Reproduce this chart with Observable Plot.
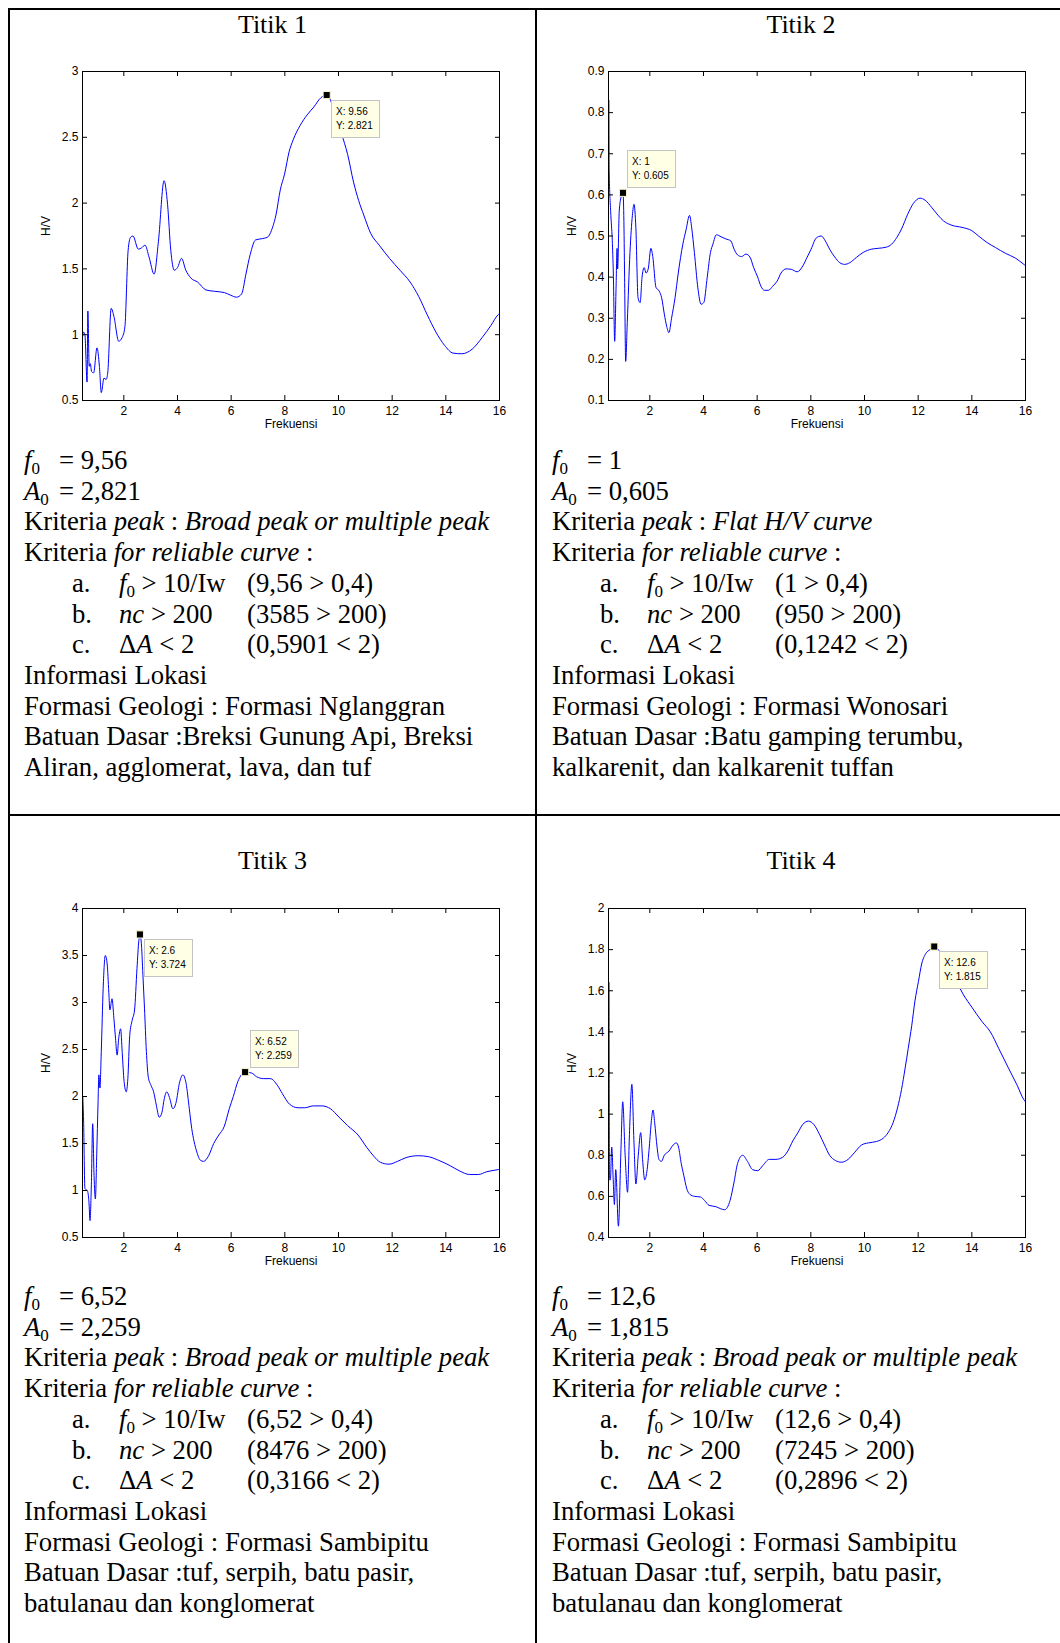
<!DOCTYPE html>
<html>
<head>
<meta charset="utf-8">
<title>Kurva H/V Titik 1–4</title>
<script src="https://cdn.jsdelivr.net/npm/d3@7"></script>
<script src="https://cdn.jsdelivr.net/npm/@observablehq/plot@0.6"></script>
<style>
  html, body { margin: 0; padding: 0; background: #fff; }
  #page {
    position: relative; width: 1060px; height: 1643px; overflow: hidden;
    font-family: "Liberation Serif", "Times New Roman", serif; color: #000;
  }
  .rule { position: absolute; background: #000; }
  .title {
    position: absolute; font-size: 26px; line-height: 26px;
    transform: translateX(-50%); white-space: nowrap;
  }
  .chart { position: absolute; }
  .info {
    position: absolute; font-size: 26.7px; line-height: 30.7px; white-space: nowrap;
  }
  .sub { position: relative; top: 5px; font-size: 17px; line-height: 0; }
  .sym { display: inline-block; width: 35px; }
  .item { padding-left: 48px; }
  .item .k { display: inline-block; width: 47px; }
  .item .c { display: inline-block; width: 128px; }
</style>
</head>
<body>
<div id="page"></div>
<script>
// H/V spectral ratio curves: [frequency (Hz), H/V]
const titik1 = [
  [0.47,0.99],[0.5,1.02],[0.55,1.0],[0.63,0.64],[0.66,1.18],[0.71,0.76],[0.75,0.78],[0.8,0.72],
  [0.875,0.71],[1.0,0.9],[1.09,0.76],[1.16,0.56],[1.26,0.67],[1.34,0.66],[1.4,0.71],[1.53,1.2],
  [1.63,1.14],[1.81,0.95],[1.94,0.98],[2.04,1.06],[2.16,1.64],[2.25,1.74],[2.34,1.75],[2.54,1.65],
  [2.66,1.66],[2.79,1.68],[2.94,1.59],[3.13,1.46],[3.29,1.71],[3.5,2.17],[3.63,1.99],[3.75,1.64],
  [3.88,1.49],[4.0,1.51],[4.15,1.58],[4.31,1.49],[4.5,1.43],[4.75,1.4],[5.06,1.34],[5.37,1.33],
  [5.75,1.32],[5.98,1.3],[6.2,1.285],[6.39,1.31],[6.55,1.46],[6.71,1.61],[6.91,1.72],[7.16,1.73],
  [7.35,1.74],[7.55,1.82],[7.67,1.91],[7.83,2.1],[7.99,2.22],[8.16,2.39],[8.31,2.48],[8.57,2.59],
  [8.83,2.67],[9.08,2.73],[9.34,2.8],[9.56,2.821],[9.85,2.7],[10.11,2.53],[10.34,2.37],[10.56,2.16],
  [10.75,2.02],[10.94,1.91],[11.2,1.77],[11.52,1.68],[11.9,1.58],[12.29,1.49],[12.67,1.4],[12.99,1.29],
  [13.31,1.15],[13.63,1.02],[13.95,0.92],[14.27,0.86],[14.59,0.855],[14.98,0.89],[15.36,0.98],
  [15.68,1.07],[15.94,1.15],[16,1.16]
];
const titik2 = [
  [0.475,0.83],[0.485,0.66],[0.54,0.56],[0.6,0.49],[0.64,0.41],[0.69,0.244],[0.74,0.37],[0.78,0.47],
  [0.8,0.42],[0.86,0.56],[0.93,0.595],[1.0,0.605],[1.03,0.55],[1.06,0.4],[1.1,0.195],[1.16,0.29],
  [1.26,0.46],[1.35,0.55],[1.41,0.577],[1.48,0.52],[1.56,0.35],[1.64,0.338],[1.71,0.4],[1.79,0.423],
  [1.86,0.41],[1.94,0.42],[2.04,0.47],[2.11,0.45],[2.23,0.375],[2.35,0.366],[2.44,0.35],[2.54,0.31],
  [2.63,0.28],[2.71,0.265],[2.81,0.3],[2.94,0.35],[3.06,0.41],[3.23,0.48],[3.35,0.515],[3.48,0.55],
  [3.56,0.52],[3.66,0.46],[3.79,0.374],[3.91,0.334],[4.01,0.338],[4.14,0.4],[4.26,0.46],[4.35,0.48],
  [4.48,0.503],[4.66,0.498],[4.83,0.493],[5.02,0.488],[5.14,0.468],[5.27,0.454],[5.42,0.45],
  [5.58,0.456],[5.73,0.449],[5.87,0.423],[6.02,0.4],[6.14,0.378],[6.27,0.368],[6.42,0.368],
  [6.58,0.378],[6.74,0.39],[6.89,0.41],[7.08,0.42],[7.27,0.419],[7.49,0.413],[7.7,0.427],[7.86,0.448],
  [8.01,0.468],[8.2,0.495],[8.39,0.5],[8.54,0.488],[8.7,0.468],[8.89,0.449],[9.08,0.435],[9.26,0.431],
  [9.45,0.435],[9.7,0.448],[9.95,0.46],[10.26,0.468],[10.51,0.47],[10.82,0.473],[11.01,0.48],
  [11.2,0.496],[11.38,0.517],[11.61,0.553],[11.82,0.579],[12.07,0.592],[12.26,0.587],[12.51,0.569],
  [12.76,0.549],[12.94,0.537],[13.26,0.526],[13.63,0.521],[14.0,0.513],[14.25,0.5],[14.57,0.484],
  [14.88,0.472],[15.25,0.458],[15.63,0.446],[15.94,0.431],[16,0.428]
];
const titik3 = [
  [0.47,2.0],[0.5,1.75],[0.55,1.02],[0.64,1.0],[0.7,0.88],[0.74,0.68],[0.79,1.06],[0.84,1.71],
  [0.89,1.16],[0.94,0.91],[0.99,1.38],[1.04,1.94],[1.07,2.23],[1.11,2.09],[1.16,2.48],[1.23,3.15],
  [1.31,3.5],[1.38,3.41],[1.44,3.11],[1.48,2.92],[1.56,3.04],[1.63,2.83],[1.69,2.62],[1.75,2.44],
  [1.81,2.62],[1.88,2.72],[1.94,2.47],[2.01,2.16],[2.09,2.05],[2.15,2.19],[2.22,2.65],[2.31,2.81],
  [2.4,2.92],[2.49,3.36],[2.56,3.66],[2.6,3.724],[2.66,3.6],[2.71,3.3],[2.77,2.94],[2.84,2.48],
  [2.91,2.21],[3.01,2.12],[3.11,2.05],[3.21,1.91],[3.32,1.78],[3.42,1.83],[3.51,1.98],[3.6,2.05],
  [3.7,1.99],[3.83,1.87],[3.95,1.94],[4.07,2.14],[4.2,2.23],[4.32,2.14],[4.44,1.87],[4.53,1.66],
  [4.62,1.52],[4.72,1.41],[4.86,1.32],[4.97,1.31],[5.16,1.37],[5.35,1.5],[5.54,1.59],[5.74,1.68],
  [5.93,1.87],[6.08,2.0],[6.25,2.16],[6.38,2.23],[6.52,2.259],[6.76,2.25],[6.95,2.21],[7.21,2.19],
  [7.46,2.19],[7.72,2.12],[7.91,2.03],[8.17,1.92],[8.49,1.88],[8.74,1.88],[9.06,1.9],[9.38,1.9],
  [9.7,1.87],[10.02,1.78],[10.34,1.69],[10.73,1.59],[11.05,1.46],[11.3,1.37],[11.56,1.3],[11.88,1.28],
  [12.2,1.31],[12.52,1.35],[12.97,1.37],[13.35,1.36],[13.74,1.32],[14.12,1.27],[14.5,1.21],
  [14.89,1.17],[15.21,1.17],[15.53,1.2],[15.91,1.22],[16,1.225]
];
const titik4 = [
  [0.48,1.64],[0.485,1.22],[0.495,0.68],[0.53,0.68],[0.58,0.84],[0.63,0.7],[0.68,0.56],[0.73,0.73],
  [0.83,0.455],[0.92,0.81],[0.99,1.06],[1.08,0.8],[1.17,0.62],[1.24,0.9],[1.33,1.145],[1.41,0.86],
  [1.48,0.66],[1.57,0.8],[1.66,0.91],[1.73,0.78],[1.81,0.68],[1.89,0.72],[1.98,0.84],[2.06,0.97],
  [2.12,1.02],[2.18,0.96],[2.27,0.84],[2.34,0.78],[2.43,0.77],[2.54,0.8],[2.71,0.82],[2.87,0.85],
  [2.99,0.86],[3.07,0.84],[3.17,0.76],[3.27,0.7],[3.37,0.64],[3.49,0.61],[3.67,0.6],[3.89,0.597],
  [4.04,0.58],[4.21,0.556],[4.46,0.55],[4.64,0.54],[4.79,0.535],[4.99,0.58],[5.14,0.67],[5.27,0.76],
  [5.46,0.8],[5.64,0.77],[5.83,0.73],[6.02,0.725],[6.21,0.75],[6.45,0.78],[6.7,0.78],[6.95,0.79],
  [7.14,0.82],[7.33,0.87],[7.52,0.91],[7.7,0.95],[7.91,0.966],[8.11,0.95],[8.33,0.9],[8.51,0.85],
  [8.7,0.8],[8.91,0.775],[9.14,0.766],[9.39,0.78],[9.64,0.815],[9.89,0.85],[10.14,0.86],[10.45,0.867],
  [10.7,0.883],[10.88,0.91],[11.07,0.96],[11.23,1.03],[11.38,1.12],[11.51,1.22],[11.63,1.32],
  [11.76,1.43],[11.88,1.55],[12.01,1.645],[12.13,1.73],[12.28,1.78],[12.44,1.8],[12.6,1.815],
  [12.88,1.775],[13.15,1.7],[13.44,1.64],[13.69,1.58],[14.0,1.52],[14.38,1.45],[14.69,1.4],[15.0,1.32],
  [15.38,1.22],[15.69,1.14],[15.94,1.07],[16,1.06]
];

// Data tips (marked peaks); "place" says whether the label box sits below or above the marker
const tips1 = [{x: 9.56, y: 2.821, place: "below"}];
const tips2 = [{x: 1, y: 0.605, place: "above"}];
const tips3 = [{x: 2.6, y: 3.724, place: "below"}, {x: 6.52, y: 2.259, place: "above"}];
const tips4 = [{x: 12.6, y: 1.815, place: "below"}];

// Axes
const xDomain = [0.46, 16];
const xTicks = [2, 4, 6, 8, 10, 12, 14, 16];
const yDomain1 = [0.5, 3],   yTicks1 = [0.5, 1, 1.5, 2, 2.5, 3];
const yDomain2 = [0.1, 0.9], yTicks2 = [0.1, 0.2, 0.3, 0.4, 0.5, 0.6, 0.7, 0.8, 0.9];
const yDomain3 = [0.5, 4],   yTicks3 = [0.5, 1, 1.5, 2, 2.5, 3, 3.5, 4];
const yDomain4 = [0.4, 2],   yTicks4 = [0.4, 0.6, 0.8, 1, 1.2, 1.4, 1.6, 1.8, 2];

// Site summaries
const titles = ["Titik 1", "Titik 2", "Titik 3", "Titik 4"];
const peakCriteria = ["Broad peak or multiple peak", "Flat H/V curve", "Broad peak or multiple peak", "Broad peak or multiple peak"];
const ncCount = [3585, 950, 8476, 7245];
const deltaA = [0.5901, 0.1242, 0.3166, 0.2896];
const formasi = ["Formasi Nglanggran", "Formasi Wonosari", "Formasi Sambipitu", "Formasi Sambipitu"];
const batuan = [
  ["Breksi Gunung Api, Breksi", "Aliran, agglomerat, lava, dan tuf"],
  ["Batu gamping terumbu,", "kalkarenit, dan kalkarenit tuffan"],
  ["tuf, serpih, batu pasir,", "batulanau dan konglomerat"],
  ["tuf, serpih, batu pasir,", "batulanau dan konglomerat"]
];

const sans = "'Liberation Sans', Arial, Helvetica, sans-serif";
const comma = v => String(v).replace(".", ",");

const measureCtx = document.createElement("canvas").getContext("2d");
measureCtx.font = "10px 'Liberation Sans', Arial, sans-serif";

// Yellow data-tip boxes next to marked points, placed through the plot's scales
function datatip(tips) {
  return (index, scales) => {
    const g = d3.create("svg:g")
      .attr("font-family", sans)
      .attr("font-size", 10)
      .attr("text-anchor", "start")
      .attr("fill", "#000");
    for (const t of tips) {
      const cx = scales.x(t.x), cy = scales.y(t.y);
      const lines = [`X: ${t.x}`, `Y: ${t.y}`];
      const w = Math.round(Math.max(...lines.map(s => measureCtx.measureText(s).width)) + 11);
      const h = 37;
      const bx = Math.round(cx + 5), by = Math.round(t.place === "below" ? cy + 5 : cy - 5 - h);
      g.append("rect")
        .attr("x", bx + 0.5).attr("y", by + 0.5)
        .attr("width", w).attr("height", h)
        .attr("fill", "#ffffe6").attr("stroke", "#c4c4c4");
      lines.forEach((s, i) => {
        g.append("text")
          .attr("x", bx + 5).attr("y", by + 11.5 + 14 * i)
          .attr("dy", "0.35em")
          .attr("text-anchor", "start")
          .text(s);
      });
    }
    return g.node();
  };
}

function hvChart(series, yDomain, yTicks, tips) {
  return Plot.plot({
    width: 487, height: 379,
    marginLeft: 50, marginRight: 20, marginTop: 10, marginBottom: 40,
    x: {domain: xDomain},
    y: {domain: yDomain},
    style: {fontFamily: sans, fontSize: "12px", color: "#000", background: "transparent", overflow: "visible"},
    marks: [
      Plot.line(series, {x: d => d[0], y: d => d[1], stroke: "#0000ff", strokeWidth: 1, curve: "monotone-x", clip: true}),
      Plot.frame({stroke: "#000"}),
      Plot.axisX({ticks: xTicks, tickSize: 0, tickPadding: 6, label: null}),
      Plot.axisX({ticks: xTicks, tickSize: -5, fill: "none", label: null}),
      Plot.axisX({anchor: "top", ticks: xTicks, tickSize: -4, fill: "none", label: null}),
      Plot.axisY({ticks: yTicks, tickSize: 0, tickPadding: 4, tickFormat: d3.format("~g"), label: null}),
      Plot.axisY({ticks: yTicks, tickSize: -5, fill: "none", label: null}),
      Plot.axisY({anchor: "right", ticks: yTicks, tickSize: -5, fill: "none", label: null}),
      Plot.text(["Frekuensi"], {text: d => d, frameAnchor: "bottom", dy: 27}),
      Plot.text(["H/V"], {text: d => d, frameAnchor: "left", dx: -36, rotate: -90}),
      Plot.dot(tips, {x: "x", y: "y", symbol: "square", r: 4, fill: "#000", stroke: "#fbf6c8", strokeWidth: 1}),
      datatip(tips)
    ]
  });
}

function infoBlock(i, peak) {
  const f0 = comma(peak.x), a0 = comma(peak.y);
  const f0sym = `<i>f</i><span class="sub">0</span>`;
  return [
    `<div><span class="sym">${f0sym}</span>= ${f0}</div>`,
    `<div><span class="sym"><i>A</i><span class="sub">0</span></span>= ${a0}</div>`,
    `<div>Kriteria <i>peak</i> : <i>${peakCriteria[i]}</i></div>`,
    `<div>Kriteria <i>for reliable curve</i> :</div>`,
    `<div class="item"><span class="k">a.</span><span class="c">${f0sym} &gt; 10/Iw</span>(${f0} &gt; 0,4)</div>`,
    `<div class="item"><span class="k">b.</span><span class="c"><i>nc</i> &gt; 200</span>(${ncCount[i]} &gt; 200)</div>`,
    `<div class="item"><span class="k">c.</span><span class="c">&Delta;<i>A</i> &lt; 2</span>(${comma(deltaA[i])} &lt; 2)</div>`,
    `<div>Informasi Lokasi</div>`,
    `<div>Formasi Geologi : ${formasi[i]}</div>`,
    `<div>Batuan Dasar :${batuan[i][0]}</div>`,
    `<div>${batuan[i][1]}</div>`
  ].join("");
}

const page = document.getElementById("page");
function put(el, left, top) {
  el.style.left = left + "px";
  el.style.top = top + "px";
  page.appendChild(el);
  return el;
}
function rule(left, top, width, height) {
  const d = document.createElement("div");
  d.className = "rule";
  d.style.width = width + "px";
  d.style.height = height + "px";
  put(d, left, top);
}

// Table borders
rule(8, 8, 1052, 2);
rule(8, 8, 2, 1635);
rule(535, 8, 2, 1635);
rule(8, 814, 1052, 2);

const cells = [
  {series: titik1, yDomain: yDomain1, yTicks: yTicks1, tips: tips1, peak: tips1[0], cx: 272.5, titleTop: 12,  svg: [32, 61],  textLeft: 24,  textTop: 445},
  {series: titik2, yDomain: yDomain2, yTicks: yTicks2, tips: tips2, peak: tips2[0], cx: 801,   titleTop: 12,  svg: [558, 61], textLeft: 552, textTop: 445},
  {series: titik3, yDomain: yDomain3, yTicks: yTicks3, tips: tips3, peak: tips3[1], cx: 272.5, titleTop: 848, svg: [32, 898], textLeft: 24,  textTop: 1281},
  {series: titik4, yDomain: yDomain4, yTicks: yTicks4, tips: tips4, peak: tips4[0], cx: 801,   titleTop: 848, svg: [558, 898], textLeft: 552, textTop: 1281}
];

cells.forEach((c, i) => {
  const t = document.createElement("div");
  t.className = "title";
  t.textContent = titles[i];
  put(t, c.cx, c.titleTop);

  const wrap = document.createElement("div");
  wrap.className = "chart";
  wrap.appendChild(hvChart(c.series, c.yDomain, c.yTicks, c.tips));
  put(wrap, c.svg[0], c.svg[1]);

  const info = document.createElement("div");
  info.className = "info";
  info.innerHTML = infoBlock(i, c.peak);
  put(info, c.textLeft, c.textTop);
});
</script>
</body>
</html>
